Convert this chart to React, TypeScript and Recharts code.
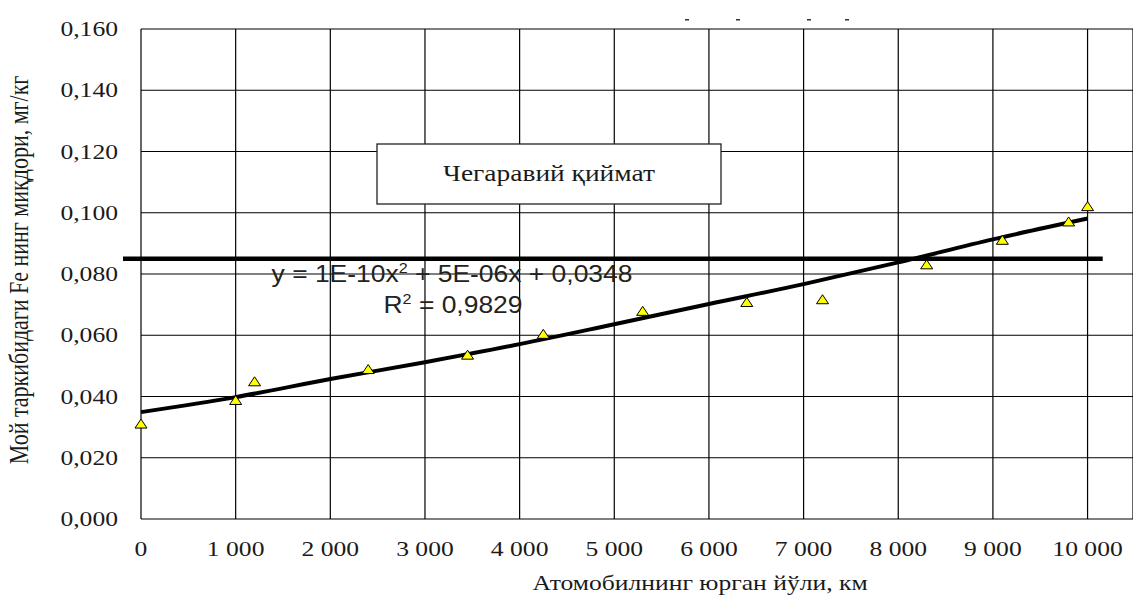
import React from 'react'
import {
  ComposedChart, Line, Scatter, XAxis, YAxis, CartesianGrid, ReferenceLine,
} from 'recharts'

// measured points (distance, km / Fe content, mg/kg)
const distKm = [0, 1000, 1200, 2400, 3450, 4250, 5300, 6400, 7200, 8300, 9100, 9800, 10000]
const feValues = [0.031, 0.0387, 0.0448, 0.0488, 0.0535, 0.0603, 0.0678, 0.0707, 0.0716, 0.083, 0.091, 0.097, 0.102]

// polynomial trend line
const trendKm = [0, 1000, 2000, 3000, 4000, 5000, 6000, 7000, 8000, 9000, 10000]
const trendValues = [0.0349, 0.0398, 0.0457, 0.0512, 0.0571, 0.0636, 0.0702, 0.0767, 0.0838, 0.0913, 0.0981]

const limitValue = 0.085
const xTicks = [0, 1000, 2000, 3000, 4000, 5000, 6000, 7000, 8000, 9000, 10000]
const yTicks = [0, 0.02, 0.04, 0.06, 0.08, 0.1, 0.12, 0.14, 0.16]

const points = distKm.map((x, i) => ({ x, y: feValues[i] }))
const trend = trendKm.map((x, i) => ({ x, y: trendValues[i] }))

const SERIF = '"Liberation Serif", "Times New Roman", serif'
const SANS = '"Liberation Sans", Arial, sans-serif'
const STRETCH = 1.22

const fmtX = (n: number) => (n === 0 ? '0' : `${Math.floor(n / 1000)} 000`)
const fmtY = (n: number) => n.toFixed(3).replace('.', ',')

const XTick = (props: any) => {
  const { x, y, payload } = props
  return (
    <g transform={`translate(${x},${y + 37}) scale(${STRETCH},1)`}>
      <text textAnchor="middle" fontFamily={SERIF} fontSize={21} fill="#1a1a1a">
        {fmtX(payload.value)}
      </text>
    </g>
  )
}

const YTick = (props: any) => {
  const { x, y, payload } = props
  return (
    <g transform={`translate(${x - 23},${y + 7}) scale(${STRETCH},1)`}>
      <text textAnchor="end" fontFamily={SERIF} fontSize={21} fill="#1a1a1a">
        {fmtY(payload.value)}
      </text>
    </g>
  )
}

const Triangle = (props: any) => {
  const { cx, cy } = props
  if (cx == null || cy == null) return null
  return (
    <polygon
      points={`${cx},${cy - 5} ${cx + 6},${cy + 4} ${cx - 6},${cy + 4}`}
      fill="#ffff00"
      stroke="#000"
      strokeWidth={1}
    />
  )
}

export default function App() {
  return (
    <div style={{ position: 'absolute', left: 0, top: 0, width: 1133, height: 597, background: '#fff' }}>
      <ComposedChart width={1133} height={597} margin={{ top: 29, right: 0, bottom: 0, left: 0 }}>
        <CartesianGrid stroke="#000" strokeWidth={1.2} />
        <XAxis
          type="number"
          dataKey="x"
          domain={[0, 10480]}
          ticks={xTicks}
          height={78}
          axisLine={false}
          tickLine={false}
          tickSize={0}
          tickMargin={0}
          tick={(p: any) => <XTick {...p} />}
        />
        <YAxis
          type="number"
          dataKey="y"
          domain={[0, 0.16]}
          ticks={yTicks}
          width={141}
          axisLine={false}
          tickLine={false}
          tickSize={0}
          tickMargin={0}
          tick={(p: any) => <YTick {...p} />}
        />
        <ReferenceLine
          segment={[{ x: -190, y: limitValue }, { x: 10160, y: limitValue }]}
          stroke="#000"
          strokeWidth={4.5}
          ifOverflow="visible"
        />
        <Line
          data={trend}
          dataKey="y"
          type="monotone"
          stroke="#000"
          strokeWidth={4}
          dot={false}
          isAnimationActive={false}
        />
        <Scatter data={points} dataKey="y" shape={(p: any) => <Triangle {...p} />} isAnimationActive={false} />
      </ComposedChart>

      <svg
        width={1133}
        height={597}
        style={{ position: 'absolute', left: 0, top: 0, pointerEvents: 'none' }}
      >
        {/* leftover marks of a cropped title */}
        {[687, 738, 809, 847].map((cx) => (
          <rect key={cx} x={cx - 2} y={19} width={4} height={1.5} fill="#333" />
        ))}

        <rect x={377} y={144} width={344} height={60} fill="#fff" stroke="#222" strokeWidth={1.3} />
        <g transform={`translate(549,181) scale(${STRETCH},1)`}>
          <text textAnchor="middle" fontFamily={SERIF} fontSize={22.5} fill="#1a1a1a">Чегаравий қиймат</text>
        </g>

        <g transform="translate(452,282) scale(1.15,1)">
          <text textAnchor="middle" fontFamily={SANS} fontSize={23} fill="#222">
            y = 1E-10x<tspan dy={-9} fontSize={14}>2</tspan>
            <tspan dy={9}> + 5E-06x + 0,0348</tspan>
          </text>
        </g>
        <g transform="translate(453,313) scale(1.15,1)">
          <text textAnchor="middle" fontFamily={SANS} fontSize={23} fill="#222">
            R<tspan dy={-9} fontSize={14}>2</tspan>
            <tspan dy={9}> = 0,9829</tspan>
          </text>
        </g>

        <g transform={`translate(700,590) scale(${STRETCH},1)`}>
          <text textAnchor="middle" fontFamily={SERIF} fontSize={21} fill="#1a1a1a">
            Атомобилнинг юрган йўли, км
          </text>
        </g>
        <g transform={`translate(28,270) scale(${STRETCH},1) rotate(-90)`}>
          <text textAnchor="middle" fontFamily={SERIF} fontSize={22} fill="#1a1a1a">
            Мой таркибидаги Fe нинг миқдори, мг/кг
          </text>
        </g>
      </svg>
    </div>
  )
}
